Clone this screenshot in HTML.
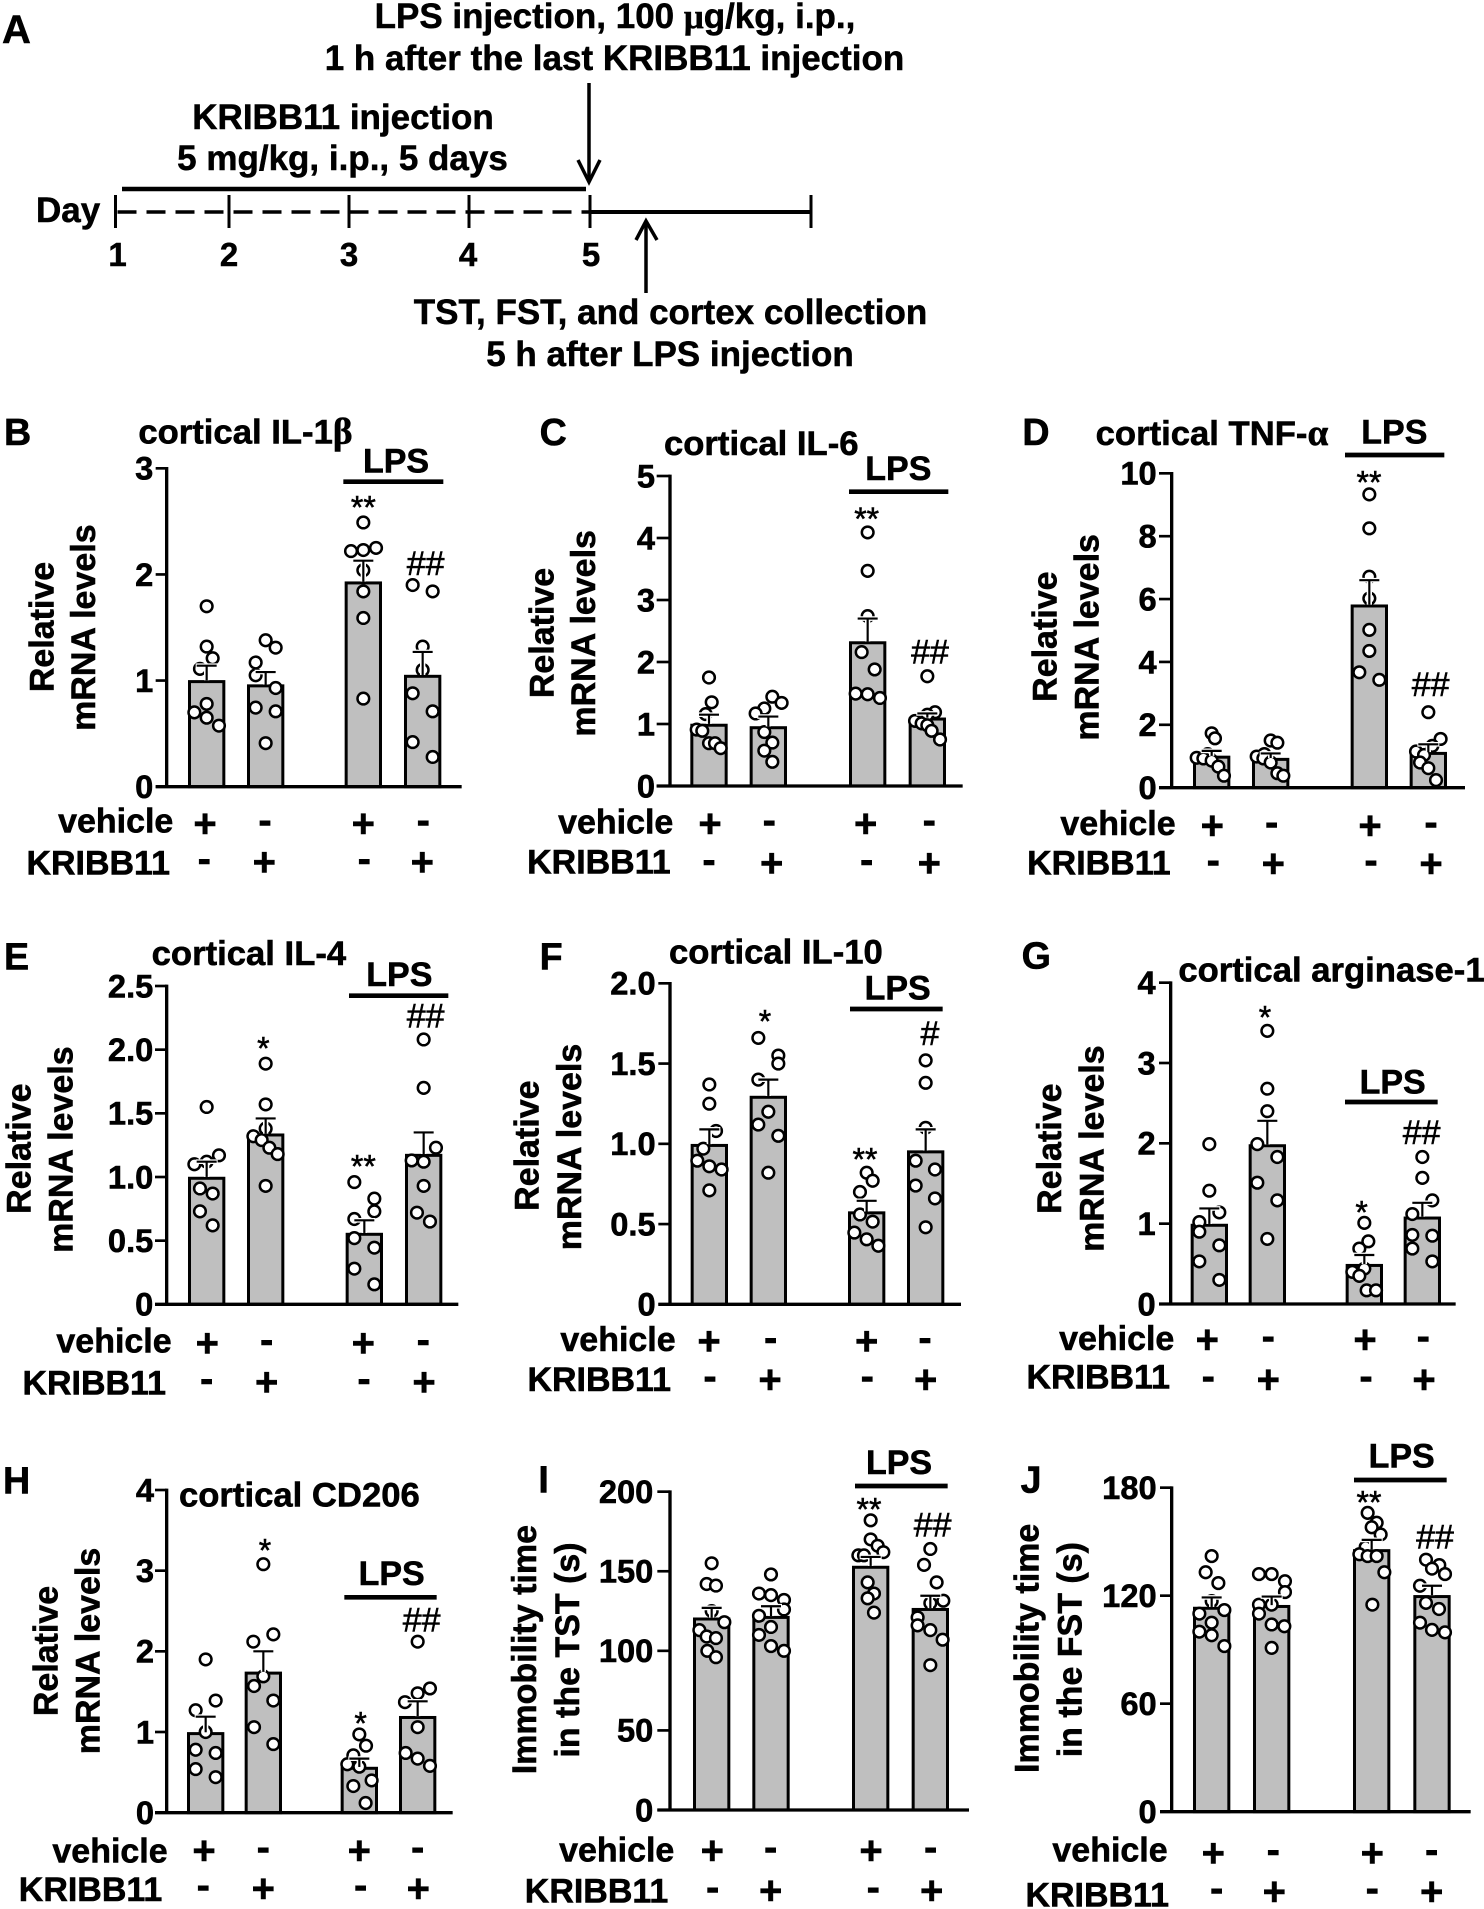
<!DOCTYPE html>
<html lang="en">
<head>
<meta charset="utf-8">
<title>KRIBB11 and LPS experiment figure</title>
<style>
html,body{margin:0;padding:0;background:#fff;}
svg{display:block;}
text{font-family:"Liberation Sans",Arial,sans-serif;fill:#000;}
.b{font-weight:bold;}
.s{font-family:"Liberation Serif","Times New Roman",serif;}
#panel-a .b{stroke:#000;stroke-width:.5px;}
#charts .b{stroke:#000;stroke-width:1.7px;}
#charts .m{stroke:#000;stroke-width:1.6px;}
</style>
</head>
<body>
<svg id="figure" xmlns="http://www.w3.org/2000/svg" width="1484" height="1909" viewBox="0 0 1484 1909">
<rect width="1484" height="1909" fill="#fff"/>
<g id="panel-a">
<text class="b" x="2" y="43" font-size="40">A</text>
<text class="b" x="615" y="28" font-size="35" text-anchor="middle">LPS injection, 100 <tspan class="s">μ</tspan>g/kg, i.p.,</text>
<text class="b" x="614.5" y="70" font-size="35" text-anchor="middle">1 h after the last KRIBB11 injection</text>
<line x1="589" y1="83" x2="589" y2="180" stroke="#000" stroke-width="3.5"/>
<polyline points="578,160 589,182 600,160" fill="none" stroke="#000" stroke-width="3.5"/>
<text class="b" x="343" y="129" font-size="35" text-anchor="middle">KRIBB11 injection</text>
<text class="b" x="342.5" y="170" font-size="35" text-anchor="middle">5 mg/kg, i.p., 5 days</text>
<line x1="122" y1="189" x2="586" y2="189" stroke="#000" stroke-width="4.5"/>
<text class="b" x="36" y="222" font-size="35">Day</text>
<line x1="115.5" y1="212" x2="590" y2="212" stroke="#000" stroke-width="3.6" stroke-dasharray="19 10" stroke-dashoffset="-2"/>
<line x1="590" y1="212" x2="811" y2="212" stroke="#000" stroke-width="4"/>
<line x1="115.5" y1="195" x2="115.5" y2="228" stroke="#000" stroke-width="3"/>
<line x1="229" y1="195" x2="229" y2="228" stroke="#000" stroke-width="3"/>
<line x1="349" y1="195" x2="349" y2="228" stroke="#000" stroke-width="3"/>
<line x1="469" y1="195" x2="469" y2="228" stroke="#000" stroke-width="3"/>
<line x1="590" y1="195" x2="590" y2="228" stroke="#000" stroke-width="3"/>
<line x1="811" y1="195" x2="811" y2="228" stroke="#000" stroke-width="3"/>
<text class="b" x="117.5" y="266" font-size="33" text-anchor="middle">1</text>
<text class="b" x="229" y="266" font-size="33" text-anchor="middle">2</text>
<text class="b" x="349" y="266" font-size="33" text-anchor="middle">3</text>
<text class="b" x="468" y="266" font-size="33" text-anchor="middle">4</text>
<text class="b" x="591" y="266" font-size="33" text-anchor="middle">5</text>
<line x1="646" y1="293" x2="646" y2="223" stroke="#000" stroke-width="3.5"/>
<polyline points="636,240 646,221 657,240" fill="none" stroke="#000" stroke-width="3.5"/>
<text class="b" x="670.5" y="324" font-size="35" text-anchor="middle">TST, FST, and cortex collection</text>
<text class="b" x="670" y="366" font-size="35" text-anchor="middle">5 h after LPS injection</text>
</g>
<g id="charts"></g>
</svg>
<script>
const groupSignsVehicle = ['+', '-', '+', '-'];
const groupSignsKribb = ['-', '+', '-', '+'];

const panelBTicks = ['0', '1', '2', '3'];
const panelBMeans = [0.99, 0.95, 1.92, 1.04];
const panelBErrors = [0.15, 0.13, 0.21, 0.23];
const panelBPoints = [
  [1.70, 1.32, 1.21, 1.11, 0.78, 0.70, 0.65, 0.575],
  [1.38, 1.31, 1.17, 1.05, 0.93, 0.745, 0.71, 0.41],
  [2.49, 2.22, 2.23, 2.25, 2.04, 1.84, 1.59, 0.83],
  [1.90, 1.84, 1.32, 1.10, 0.88, 0.71, 0.42, 0.28]
];
const panelBJitter = [
  [0, 0, 0.6, -0.67, 0, -1.23, 0, 1.23],
  [0, 1, -1, -1, 1, -1, 1, 0],
  [0, -1.23, 0, 1.27, 0, 0, 0, 0],
  [-1, 1, 0, 0, -1, 1, -1, 1]
];

const panelCTicks = ['0', '1', '2', '3', '4', '5'];
const panelCMeans = [0.98, 0.94, 2.31, 1.08];
const panelCErrors = [0.17, 0.18, 0.39, 0.09];
const panelCPoints = [
  [1.75, 1.35, 1.16, 0.91, 0.89, 0.69, 0.69, 0.61],
  [1.44, 1.34, 1.25, 1.17, 0.87, 0.70, 0.57, 0.39],
  [4.09, 3.47, 2.74, 2.16, 1.88, 1.49, 1.48, 1.42],
  [1.77, 1.19, 1.15, 1.05, 1.01, 0.98, 0.89, 0.75]
];
const panelCJitter = [
  [0, 0.27, -0.33, -1.23, -0.67, 0, 0.6, 1.17],
  [0.4, 1.33, -0.4, -1.27, -0.4, 0.4, -0.4, 0.4],
  [0, 0, 0, -0.6, 0.7, -1.2, 0, 1.23],
  [0, 0.77, 0, -1.23, -0.57, 0, 0.43, 1.27]
];

const panelDTicks = ['0', '2', '4', '6', '8', '10'];
const panelDMeans = [0.97, 0.90, 5.78, 1.09];
const panelDErrors = [0.20, 0.19, 0.82, 0.29];
const panelDPoints = [
  [1.73, 1.57, 1.07, 0.95, 0.93, 0.86, 0.67, 0.38],
  [1.50, 1.43, 1.07, 0.99, 0.93, 0.80, 0.46, 0.38],
  [9.33, 8.25, 6.71, 6.02, 5.02, 4.35, 3.67, 3.43],
  [2.40, 1.55, 1.33, 1.15, 1.04, 0.80, 0.62, 0.24]
];
const panelDJitter = [
  [0, 0.33, -0.4, -1.5, -0.83, 0, 0.67, 1.23],
  [0, 0.67, -0.63, -1.4, -0.73, 0, 0.67, 1.27],
  [0, 0, 0, 0, 0, 0, -1, 1],
  [0, 1.23, 0.4, -1.23, -0.43, -0.83, 0, 0.77]
];

const panelETicks = ['0', '0.5', '1.0', '1.5', '2.0', '2.5'];
const panelEMeans = [0.99, 1.33, 0.55, 1.17];
const panelEErrors = [0.13, 0.13, 0.11, 0.18];
const panelEPoints = [
  [1.55, 1.17, 1.12, 1.10, 0.91, 0.87, 0.73, 0.62],
  [1.89, 1.57, 1.38, 1.32, 1.29, 1.23, 1.18, 0.93],
  [0.96, 0.83, 0.73, 0.67, 0.52, 0.445, 0.28, 0.157],
  [2.08, 1.70, 1.23, 1.13, 1.12, 0.93, 0.72, 0.65]
];
const panelEJitter = [
  [0, 1.23, 0, -1.23, -0.67, 0.6, -0.67, 0.6],
  [0, 0, 0, -1.23, -0.4, 0.37, 1.2, 0],
  [-1, 1, 1, -1, -1, 1, -1, 1],
  [0, 0, 1.23, -1.2, 0, 0, -0.67, 0.63]
];

const panelFTicks = ['0', '0.5', '1.0', '1.5', '2.0'];
const panelFMeans = [0.99, 1.29, 0.57, 0.95];
const panelFErrors = [0.10, 0.11, 0.075, 0.14];
const panelFPoints = [
  [1.37, 1.25, 1.08, 0.97, 0.895, 0.86, 0.84, 0.71],
  [1.66, 1.55, 1.50, 1.40, 1.20, 1.12, 1.05, 0.82],
  [0.82, 0.77, 0.70, 0.56, 0.515, 0.447, 0.405, 0.365],
  [1.52, 1.38, 1.10, 0.895, 0.84, 0.74, 0.66, 0.48]
];
const panelFJitter = [
  [0, 0, 0.67, -0.6, -1.2, 0, 1.23, 0],
  [-1, 1, 1, -1, 0, -1, 1, 0],
  [0, 0.6, -0.67, -0.67, 0.6, -1.23, 0, 1.17],
  [0, 0, 0, -1, 0.93, -1, 0.93, 0]
];

const panelGTicks = ['0', '1', '2', '3', '4'];
const panelGMeans = [0.98, 1.97, 0.48, 1.07];
const panelGErrors = [0.21, 0.31, 0.13, 0.19];
const panelGPoints = [
  [1.99, 1.41, 1.14, 1.02, 0.90, 0.73, 0.53, 0.30],
  [3.40, 2.68, 2.40, 1.99, 1.83, 1.51, 1.29, 0.81],
  [1.01, 0.78, 0.69, 0.44, 0.40, 0.35, 0.17, 0.17],
  [1.83, 1.57, 1.29, 1.12, 0.86, 0.85, 0.69, 0.53]
];
const panelGJitter = [
  [0, 0, 1, -1, -1, 1, -1, 1],
  [0, 0, 0, -1, 1, -1, 1, 0],
  [0, 0.4, -0.5, 0, -1.2, -0.5, 0.23, 1.17],
  [0, 0, 1, -1, -1, 1, -1, 1]
];

const panelHTicks = ['0', '1', '2', '3', '4'];
const panelHMeans = [0.98, 1.73, 0.55, 1.18];
const panelHErrors = [0.21, 0.27, 0.12, 0.20];
const panelHPoints = [
  [1.90, 1.39, 1.27, 1.0, 0.78, 0.74, 0.54, 0.44],
  [3.08, 2.21, 2.12, 1.69, 1.57, 1.39, 1.06, 0.85],
  [0.97, 0.83, 0.71, 0.60, 0.57, 0.40, 0.33, 0.12],
  [2.12, 1.54, 1.48, 1.37, 1.06, 0.74, 0.67, 0.58]
];
const panelHJitter = [
  [0, 1, -1, 0, -1, 1, -1, 1],
  [0, 1, -1, 0, -0.93, 1, -0.93, 1],
  [0, 0.67, -0.6, -1.2, 0, 1.23, -0.6, 0.63],
  [0, 1.23, 0, -1.27, 0, -1.2, 0, 1.23]
];

const panelITicks = ['0', '50', '100', '150', '200'];
const panelIMeans = [120, 121, 152.5, 126];
const panelIErrors = [7, 7, 6.5, 8.6];
const panelIPoints = [
  [155, 142, 141, 125, 118, 113, 109, 108, 100, 96],
  [148, 136, 135, 132, 126, 122, 115, 110, 103, 100],
  [182, 170, 166, 162, 160, 160, 143, 136, 133, 124],
  [164, 154, 143, 131.5, 130, 121, 116, 113, 107, 91]
];
const panelIJitter = [
  [0, -0.5, 0.43, 0, 1.27, -1.23, -0.5, 0.43, -0.43, 0.43],
  [0, -1.2, 0, 1.3, 1.3, -1.2, 0, -1.2, 0, 1.3],
  [0, 0, 0.7, 1.27, -1.23, -0.67, -0.3, 0.33, -0.3, 0.33],
  [0, -0.63, 0.63, 1.3, 0, -1.27, -1.27, 0, 1.23, 0]
];

const panelJTicks = ['0', '60', '120', '180'];
const panelJMeans = [113, 114, 145, 119.5];
const panelJErrors = [6, 5.5, 6, 6];
const panelJPoints = [
  [142, 133, 127, 117, 112, 110, 105, 100, 98, 92],
  [132, 132, 128, 122, 115, 115, 110, 104, 103, 91],
  [166, 160.5, 158, 154, 147, 143, 142, 142, 133, 115],
  [140, 137, 135, 132, 125.5, 116, 112.6, 105, 101, 99.6]
];
const panelJJitter = [
  [0, -0.6, 0.67, 0, 1.27, -1.23, 0, -1.23, 0, 1.27],
  [-1.27, 0, 1.33, 1.33, 0, -1.27, -1.27, 0, 1.27, 0],
  [-0.4, 0.5, 0, 0.9, -0.6, -1.23, -0.4, 0.5, 1.27, 0.07],
  [-0.6, 0.73, 0, 1.3, -1.2, -0.6, 0.7, -1.2, 0, 1.3]
];

const SVG_NS = 'http://www.w3.org/2000/svg';
const JITTER_UNIT = 30;
const BAR_WIDTH = 103;
const CAP_HALF = 30;
const DOT_RADIUS = 17.5;

function mk(tag, parent) {
  const el = document.createElementNS(SVG_NS, tag);
  parent.appendChild(el);
  return el;
}
function addLine(parent, x1, y1, x2, y2, width, color) {
  const el = mk('line', parent);
  el.setAttribute('x1', x1);
  el.setAttribute('y1', y1);
  el.setAttribute('x2', x2);
  el.setAttribute('y2', y2);
  el.setAttribute('stroke', color || '#000');
  el.setAttribute('stroke-width', width);
  return el;
}
function addText(parent, str, x, y, size, anchor, bold) {
  const el = mk('text', parent);
  el.textContent = str;
  el.setAttribute('x', x);
  el.setAttribute('y', y);
  el.setAttribute('font-size', size);
  el.setAttribute('text-anchor', anchor || 'start');
  el.setAttribute('class', bold !== false ? 'b' : 'm');
  return el;
}
function addRotated(parent, str, baseX, centerY) {
  const el = mk('text', parent);
  el.textContent = str;
  el.setAttribute('class', 'b');
  el.setAttribute('font-size', 102);
  el.setAttribute('text-anchor', 'middle');
  el.setAttribute('transform', 'translate(' + baseX + ',' + centerY + ') rotate(-90)');
  return el;
}

function drawPanel(cfg, ticks, means, errors, points, jitter) {
  const root = document.getElementById('charts');
  const g = mk('g', root);
  g.setAttribute('transform', 'translate(' + cfg.ox + ',' + cfg.oy + ') scale(0.33333)');
  
  

  const tickValues = ticks.map(parseFloat);
  const yMax = tickValues[tickValues.length - 1];
  const yScale = function (v) { return cfg.zero - (v / yMax) * (cfg.zero - cfg.top); };

  means.forEach(function (m, i) {
    const bar = mk('rect', g);
    bar.setAttribute('x', cfg.bars[i] - BAR_WIDTH / 2);
    bar.setAttribute('y', yScale(m));
    bar.setAttribute('width', BAR_WIDTH);
    bar.setAttribute('height', cfg.zero - yScale(m));
    bar.setAttribute('fill', '#bfbfbf');
    bar.setAttribute('stroke', '#000');
    bar.setAttribute('stroke-width', 9);
    
    
  });

  points.forEach(function (series, i) {
    series.forEach(function (v, j) {
      const dot = mk('circle', g);
      dot.setAttribute('cx', cfg.bars[i] + jitter[i][j] * JITTER_UNIT);
      dot.setAttribute('cy', yScale(v));
      dot.setAttribute('r', DOT_RADIUS);
      dot.setAttribute('fill', '#fff');
      dot.setAttribute('stroke', '#000');
      dot.setAttribute('stroke-width', 7.5);
      
      
    });
  });

  means.forEach(function (m, i) {
    const x = cfg.bars[i];
    const capY = yScale(m + errors[i]);
    const barTop = yScale(m) - 4;
    const haloStem = addLine(g, x, barTop, x, capY, 16, '#fff');
    
    
    const haloCap = addLine(g, x - CAP_HALF - 3, capY, x + CAP_HALF + 3, capY, 14, '#fff');
    
    
    const stem = addLine(g, x, barTop, x, capY, 6.5);
    
    
    const cap = addLine(g, x - CAP_HALF, capY, x + CAP_HALF, capY, 6.5);
    
    
  });

  const yAxis = addLine(g, cfg.axisX, cfg.top - 4, cfg.axisX, cfg.zero + 4, 10);
  
  
  const xAxis = addLine(g, cfg.axisL, cfg.zero, cfg.axisR, cfg.zero, 10);
  
  

  ticks.forEach(function (label, i) {
    const y = yScale(tickValues[i]);
    const tick = addLine(g, cfg.axisL, y, cfg.axisX, y, 8);
    
    
    const tl = addText(g, label, cfg.tickRight, y + 34, 98, 'end');
    
    
  });

  const letter = addText(g, cfg.letter, cfg.letterX - 3, cfg.letterY, 113, 'start');
  
  

  if (cfg.title) {
    const title = addText(g, cfg.title, cfg.titleX, cfg.titleY, 104, 'start');
    
    
    if (cfg.greek) {
      const greek = mk('tspan', title);
      greek.textContent = cfg.greek;
      greek.setAttribute('class', 's');
      greek.setAttribute('font-size', 112);
    }
  }

  const lps = addText(g, 'LPS', cfg.lpsX, cfg.lpsY, 102, 'middle');
  
  
  const lpsLine = addLine(g, cfg.lpsL, cfg.lpsLineY, cfg.lpsR, cfg.lpsLineY, 14);
  
  

  const t1 = addRotated(g, cfg.yTitle1, cfg.yBase1, cfg.yMid1);
  
  
  const t2 = addRotated(g, cfg.yTitle2, cfg.yBase2, cfg.yMid2);
  
  

  const veh = addText(g, 'vehicle', cfg.vehRight, cfg.vehBase, 102, 'end');
  
  
  const kri = addText(g, 'KRIBB11', cfg.kriRight, cfg.kriBase, 102, 'end');
  
  

  const signOffset = function (s) { return s === '+' ? 0.345 * 120 : 0.26 * 120; };
  groupSignsVehicle.forEach(function (s, i) {
    const el = addText(g, s, cfg.row1[i], cfg.row1Y + signOffset(s), 120, 'middle');
    
    
  });
  groupSignsKribb.forEach(function (s, i) {
    const el = addText(g, s, cfg.row2[i], cfg.row2Y + signOffset(s), 120, 'middle');
    
    
  });

  cfg.marks.forEach(function (m) {
    const isStar = m[0].charAt(0) === '*';
    const size = isStar ? 96 : 102;
    const base = isStar ? m[2] + 0.73 * size : m[2];
    const el = addText(g, m[0], m[1], base, size, 'middle', false);
    
    
  });
}

const MRNA1 = 'Relative';
const MRNA2 = 'mRNA levels';

drawPanel({name:'panel-b-il1b', ox:0, oy:400, axisX:500, axisL:467, axisR:1385, top:205, zero:1160, tickRight:460,
  bars:[620,797,1090,1268], letter:'B', letterX:15, letterY:135, title:'cortical IL-1', greek:'β', titleX:415, titleY:130,
  lpsX:1188, lpsY:218, lpsL:1030, lpsR:1330, lpsLineY:245, yTitle1:MRNA1, yBase1:160, yMid1:681, yTitle2:MRNA2, yBase2:285, yMid2:683,
  vehRight:520, vehBase:1298, kriRight:510, kriBase:1423, row1:[615,795,1090,1270], row1Y:1270, row2:[613,793,1093,1267], row2Y:1385,
  marks:[['**',1090,285],['##',1277,525]]}, panelBTicks, panelBMeans, panelBErrors, panelBPoints, panelBJitter);

drawPanel({name:'panel-c-il6', ox:500, oy:400, axisX:510, axisL:470, axisR:1388, top:228, zero:1158, tickRight:465,
  bars:[627,805,1103,1282], letter:'C', letterX:122, letterY:135, title:'cortical IL-6', titleX:492, titleY:165,
  lpsX:1195, lpsY:240, lpsL:1047, lpsR:1345, lpsLineY:275, yTitle1:MRNA1, yBase1:160, yMid1:699, yTitle2:MRNA2, yBase2:285, yMid2:700,
  vehRight:520, vehBase:1300, kriRight:512, kriBase:1420, row1:[630,808,1097,1288], row1Y:1270, row2:[627,815,1100,1288], row2Y:1388,
  marks:[['**',1100,320],['##',1290,790]]}, panelCTicks, panelCMeans, panelCErrors, panelCPoints, panelCJitter);

drawPanel({name:'panel-d-tnfa', ox:1000, oy:400, axisX:515, axisL:477, axisR:1395, top:220, zero:1163, tickRight:470,
  bars:[635,812,1108,1285], letter:'D', letterX:70, letterY:135, title:'cortical TNF-', greek:'α', titleX:287, titleY:135,
  lpsX:1183, lpsY:130, lpsL:1035, lpsR:1333, lpsLineY:165, yTitle1:MRNA1, yBase1:170, yMid1:710, yTitle2:MRNA2, yBase2:295, yMid2:712,
  vehRight:527, vehBase:1305, kriRight:512, kriBase:1423, row1:[637,815,1110,1293], row1Y:1275, row2:[640,820,1113,1293], row2Y:1390,
  marks:[['**',1107,210],['##',1292,888]]}, panelDTicks, panelDMeans, panelDErrors, panelDPoints, panelDJitter);

drawPanel({name:'panel-e-il4', ox:0, oy:920, axisX:500, axisL:465, axisR:1375, top:198, zero:1153, tickRight:460,
  bars:[620,797,1093,1271], letter:'E', letterX:15, letterY:148, title:'cortical IL-4', titleX:455, titleY:135,
  lpsX:1198, lpsY:198, lpsL:1047, lpsR:1345, lpsLineY:227, yTitle1:MRNA1, yBase1:92, yMid1:686, yTitle2:MRNA2, yBase2:218, yMid2:689,
  vehRight:515, vehBase:1298, kriRight:498, kriBase:1423, row1:[622,800,1090,1270], row1Y:1268, row2:[620,800,1092,1272], row2Y:1385,
  marks:[['*',790,348],['**',1090,703],['##',1277,322]]}, panelETicks, panelEMeans, panelEErrors, panelEPoints, panelEJitter);

drawPanel({name:'panel-f-il10', ox:500, oy:920, axisX:510, axisL:475, axisR:1383, top:190, zero:1153, tickRight:467,
  bars:[628,805,1100,1277], letter:'F', letterX:122, letterY:148, title:'cortical IL-10', titleX:507, titleY:130,
  lpsX:1193, lpsY:238, lpsL:1050, lpsR:1328, lpsLineY:267, yTitle1:MRNA1, yBase1:115, yMid1:677, yTitle2:MRNA2, yBase2:243, yMid2:681,
  vehRight:527, vehBase:1293, kriRight:513, kriBase:1413, row1:[627,812,1100,1275], row1Y:1262, row2:[630,810,1102,1277], row2Y:1378,
  marks:[['*',795,268],['**',1095,682],['#',1290,375]]}, panelFTicks, panelFMeans, panelFErrors, panelFPoints, panelFJitter);

drawPanel({name:'panel-g-arginase1', ox:1000, oy:920, axisX:512, axisL:477, axisR:1367, top:188, zero:1152, tickRight:467,
  bars:[628,802,1093,1267], letter:'G', letterX:68, letterY:145, title:'cortical arginase-1', titleX:535, titleY:185,
  lpsX:1178, lpsY:520, lpsL:1035, lpsR:1313, lpsLineY:546, yTitle1:MRNA1, yBase1:183, yMid1:686, yTitle2:MRNA2, yBase2:310, yMid2:686,
  vehRight:523, vehBase:1290, kriRight:510, kriBase:1405, row1:[622,805,1095,1270], row1Y:1258, row2:[625,805,1098,1272], row2Y:1378,
  marks:[['*',795,255],['*',1085,840],['##',1265,672]]}, panelGTicks, panelGMeans, panelGErrors, panelGPoints, panelGJitter);

drawPanel({name:'panel-h-cd206', ox:0, oy:1420, axisX:500, axisL:465, axisR:1358, top:210, zero:1178, tickRight:462,
  bars:[617,790,1078,1253], letter:'H', letterX:12, letterY:220, title:'cortical CD206', titleX:537, titleY:260,
  lpsX:1175, lpsY:495, lpsL:1033, lpsR:1310, lpsLineY:532, yTitle1:MRNA1, yBase1:172, yMid1:693, yTitle2:MRNA2, yBase2:298, yMid2:693,
  vehRight:503, vehBase:1328, kriRight:487, kriBase:1443, row1:[612,790,1078,1253], row1Y:1290, row2:[610,790,1082,1255], row2Y:1405,
  marks:[['*',795,355],['*',1082,873],['##',1265,635]]}, panelHTicks, panelHMeans, panelHErrors, panelHPoints, panelHJitter);

drawPanel({name:'panel-i-tst', ox:500, oy:1420, axisX:510, axisL:472, axisR:1407, top:215, zero:1170, tickRight:460,
  bars:[635,813,1112,1291], letter:'I', letterX:118, letterY:218,
  lpsX:1197, lpsY:162, lpsL:1065, lpsR:1343, lpsLineY:198, yTitle1:'Immobility time', yBase1:108, yMid1:689, yTitle2:'in the TST (s)', yBase2:237, yMid2:690,
  vehRight:523, vehBase:1325, kriRight:505, kriBase:1447, row1:[637,812,1113,1292], row1Y:1290, row2:[638,812,1120,1295], row2Y:1410,
  marks:[['**',1107,232],['##',1298,350]]}, panelITicks, panelIMeans, panelIErrors, panelIPoints, panelIJitter);

drawPanel({name:'panel-j-fst', ox:1000, oy:1420, axisX:515, axisL:480, axisR:1412, top:203, zero:1175, tickRight:470,
  bars:[635,815,1115,1296], letter:'J', letterX:65, letterY:218,
  lpsX:1205, lpsY:143, lpsL:1062, lpsR:1340, lpsLineY:180, yTitle1:'Immobility time', yBase1:115, yMid1:685, yTitle2:'in the FST (s)', yBase2:245, yMid2:689,
  vehRight:503, vehBase:1325, kriRight:507, kriBase:1460, row1:[640,820,1117,1295], row1Y:1298, row2:[650,823,1117,1295], row2Y:1413,
  marks:[['**',1107,210],['##',1305,385]]}, panelJTicks, panelJMeans, panelJErrors, panelJPoints, panelJJitter);
</script>
</body>
</html>
